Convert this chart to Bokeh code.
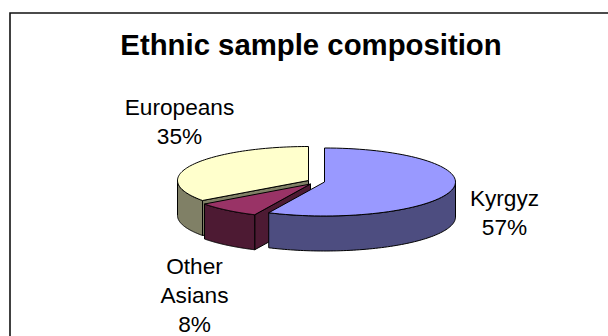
import numpy as np
from bokeh.core.properties import value
from bokeh.embed import file_html
from bokeh.models import Range1d
from bokeh.plotting import figure
from bokeh.resources import INLINE

# Survey shares, clockwise from twelve o'clock
groups = ["Kyrgyz", "Other Asians", "Europeans"]
shares = [57, 8, 35]
label_lines = [["Kyrgyz", "57%"], ["Other", "Asians", "8%"], ["Europeans", "35%"]]
top_colors = ["#9999FF", "#993366", "#FFFFCC"]
wall_colors = ["#4D4D80", "#4D1A33", "#808066"]

# Pie layout in page pixels
centers = [(324, 181.5), (310, 183.5), (308, 180)]
label_anchors = [(504, 197), (194, 265), (179, 106)]
RX, RY, DEPTH = 131, 34, 35
FONT = "Liberation Sans"

p = figure(width=608, height=336, output_backend="svg", toolbar_location=None,
           x_range=Range1d(0, 608), y_range=Range1d(336, 0), min_border=0)
p.axis.visible = False
p.grid.visible = False
p.outline_line_color = None
p.background_fill_color = "white"
p.border_fill_color = "white"

# Chart frame: only its top and left edges fall inside the page
p.line(x=[9.5, 9.5, 608], y=[336, 12.5, 12.5], line_color="#111111", line_width=1.6,
       line_join="miter")


def rim(cx, cy, start, stop, n=80):
    t = np.radians(np.linspace(start, stop, n))
    return cx + RX * np.sin(t), cy - RY * np.cos(t)


# Slice angles from the shares
edges = np.concatenate([[0], np.cumsum(shares)]) * 3.6
slices = [(i, edges[i], edges[i + 1]) for i in range(len(groups))]

# Back to front: Europeans, then Other Asians, then Kyrgyz
for i, a, b in [slices[2], slices[1], slices[0]]:
    cx, cy = centers[i]
    line = dict(line_color="black", line_width=1, line_join="round")

    # Cut face on the side that turns towards the viewer
    if i in (1, 2):
        ex, ey = rim(cx, cy, a, a, 1)
        p.patch([cx, ex[0], ex[0], cx], [cy, ey[0], ey[0] + DEPTH, cy + DEPTH],
                fill_color=wall_colors[i], **line)

    # Outer wall, only the part on the near half of the ellipse
    lo, hi = max(a, 90), min(b, 270)
    wx, wy = rim(cx, cy, lo, hi)
    p.patch(np.concatenate([wx, wx[::-1]]), np.concatenate([wy, wy[::-1] + DEPTH]),
            fill_color=wall_colors[i], **line)

    # Top face
    tx, ty = rim(cx, cy, a, b)
    p.patch(np.concatenate([[cx], tx]), np.concatenate([[cy], ty]),
            fill_color=top_colors[i], **line)

p.text(x=[310.5], y=[44], text=["Ethnic sample composition"], text_align="center",
       text_baseline="middle", text_font=value(FONT), text_font_style="bold",
       text_font_size="22pt", text_color="black")

LINE_STEP = 29
for lines, (ax, ay) in zip(label_lines, label_anchors):
    p.text(x=[ax] * len(lines), y=[ay + k * LINE_STEP for k in range(len(lines))],
           text=lines, text_align="center", text_baseline="middle",
           text_font=value(FONT), text_font_size="17pt", text_color="black")

open("out.html", "w").write(file_html(p, INLINE))
